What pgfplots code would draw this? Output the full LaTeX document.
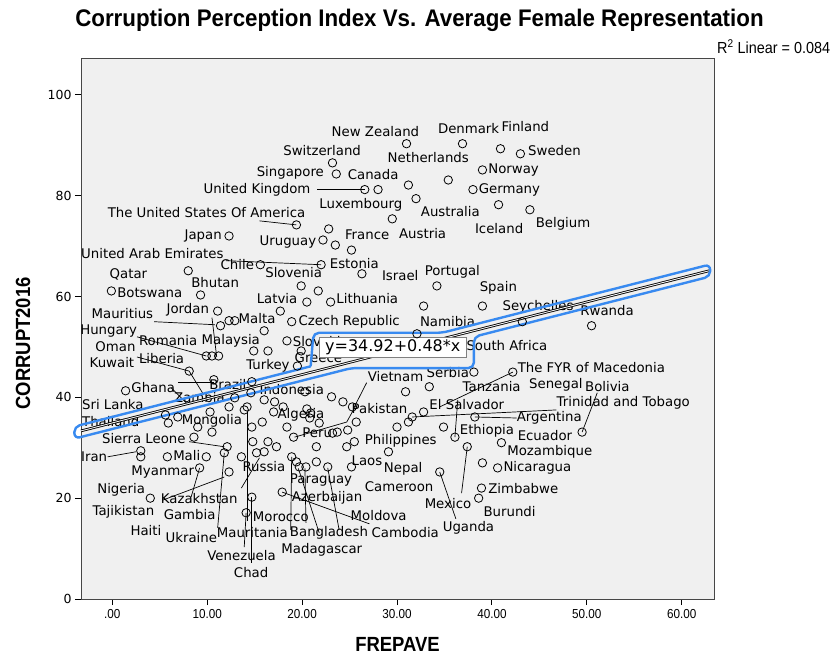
\documentclass[border=0pt]{standalone}
\usepackage{fontspec}
\setmainfont{DejaVu Sans}
\newfontfamily\condfont{Liberation Sans}[FakeStretch=0.9]
\newfontfamily\titlefont{Liberation Sans}[FakeStretch=0.93]
\usepackage{pgfplots}
\pgfplotsset{compat=1.18}
\definecolor{bgc}{RGB}{240,240,240}
\definecolor{framec}{RGB}{70,70,70}
\definecolor{selblue}{RGB}{56,138,240}
\newcommand{\labfont}{\fontsize{13.3}{14}\selectfont}
\newcommand{\lab}[3]{\node[anchor=west,inner sep=0pt,font=\labfont] at (axis cs:#1,#2) {#3};}
\begin{document}
\begin{tikzpicture}
\useasboundingbox (-81pt,-57pt) rectangle (756pt,599pt);
\begin{axis}[
  at={(0pt,0pt)}, anchor=south west, scale only axis,
  width=633pt, height=541pt,
  xmin=-3.3, xmax=63.4, ymin=0, ymax=107.3,
  axis background/.style={fill=bgc},
  axis line style={draw=framec, line width=0.9pt},
  xtick={0,10,20,30,40,50,60},
  xticklabels={.00,10.00,20.00,30.00,40.00,50.00,60.00},
  ytick={0,20,40,60,80,100},
  tick align=outside, xtick pos=bottom, ytick pos=left,
  major tick length=6pt,
  tick style={black, line width=0.9pt},
  x tick label style={font=\condfont\fontsize{13}{13}\selectfont, yshift=-1pt},
  y tick label style={font=\fontsize{12.5}{13}\selectfont},
  /pgf/number format/assume math mode=true,
  clip=false,
]
% data points
\addplot[only marks, mark=o, mark size=4.2pt, mark options={line width=0.8pt, black}] coordinates {
(31.0,90.3) (36.9,90.3) (40.9,89.3) (43.0,88.3) (23.2,86.5) (39.0,85.1)
(23.6,84.3) (35.4,83.1) (31.2,82.1) (38.0,81.2) (26.6,81.2) (28.0,81.2)
(32.0,79.4) (40.7,78.2) (44.0,77.2) (29.5,75.4) (19.4,74.2) (22.8,73.4)
(12.3,72.0) (22.2,71.2) (23.5,70.2) (25.2,69.2) (15.6,66.3) (22.0,66.3)
(8.0,65.1) (26.3,64.5) (34.2,62.1) (19.9,62.1) (21.7,61.1) (-0.1,61.1)
(9.3,60.3) (20.5,58.9) (23.0,58.9) (39.0,58.1) (32.8,58.1) (11.1,57.1)
(17.7,57.1) (12.3,55.2) (12.9,55.2) (11.4,54.2) (18.9,55.0) (16.0,53.2)
(18.4,51.2) (43.2,55.0) (50.5,54.2) (32.1,52.6) (9.9,48.2) (10.5,48.2)
(11.2,48.2) (14.9,49.2) (16.4,49.2) (19.9,49.2) (19.5,46.2) (8.1,45.2)
(38.1,45.0) (42.2,45.0) (33.4,42.1) (30.9,41.1) (10.7,43.5) (1.4,41.3)
(14.7,43.1) (20.3,41.1) (23.1,40.1) (24.3,39.1) (12.9,39.9) (12.3,38.1)
(14.6,40.9) (10.3,37.1) (5.6,36.5) (6.9,36.1) (5.9,34.9) (13.9,37.5)
(16.0,39.5) (17.1,39.1) (17.0,37.1) (18.0,38.1) (20.5,37.7) (20.8,35.9)
(9.0,34.1) (15.8,35.1) (14.7,34.1) (18.4,34.1) (19.1,32.1) (23.2,32.9)
(25.3,38.1) (24.8,33.5) (8.6,32.1) (12.1,30.2) (11.8,29.0) (21.8,34.9)
(23.7,33.1) (25.7,35.1) (10.5,33.1) (9.9,28.2) (14.8,31.2) (16.4,31.2)
(17.3,30.2) (16.0,29.2) (15.2,29.0) (13.6,28.2) (21.5,30.2) (21.5,27.2)
(24.7,30.2) (25.5,31.2) (18.9,28.2) (19.7,26.2) (20.4,26.2) (22.7,26.2)
(25.2,26.2) (12.3,25.2) (17.9,21.2) (14.7,20.2) (3.0,29.4) (3.0,28.2)
(5.8,28.2) (9.2,26.0) (4.0,20.0) (14.1,17.1) (14.2,38.1) (19.4,27.2)
(20.9,36.9) (31.6,36.1) (31.2,35.1) (32.8,37.1) (30.0,34.1) (34.9,34.1)
(38.2,36.1) (36.1,32.1) (29.1,29.2) (37.4,30.2) (41.0,31.0) (49.5,33.1)
(39.0,27.0) (40.6,26.0) (34.5,25.2) (38.9,22.0) (38.6,20.0)
};
% leader lines
\pgfplotsset{leader/.style={black, line width=0.7pt, forget plot}}
\addplot[leader] coordinates {(21.6,81.2) (26.6,81.2)};
\addplot[leader] coordinates {(15.5,75.0) (19.4,74.2)};
\addplot[leader] coordinates {(12.0,67.1) (22.0,66.3)};
\addplot[leader] coordinates {(4.4,55.0) (10.8,54.4)};
\addplot[leader] coordinates {(10.5,55.8) (11.0,48.0)};
\addplot[leader] coordinates {(2.6,52.0) (9.9,48.2)};
\addplot[leader] coordinates {(2.6,48.0) (8.1,45.2) (9.5,40.9)};
\addplot[leader] coordinates {(6.9,42.9) (10.7,42.9)};
\addplot[leader] coordinates {(6.2,41.9) (7.8,38.9)};
\addplot[leader] coordinates {(42.2,45.0) (34.5,38.1)};
\addplot[leader] coordinates {(26.8,42.9) (25.5,38.1)};
\addplot[leader] coordinates {(31.6,36.1) (46.8,37.5)};
\addplot[leader] coordinates {(38.2,36.1) (42.6,35.9)};
\addplot[leader] coordinates {(36.4,39.5) (36.1,32.1)};
\addplot[leader] coordinates {(49.5,33.1) (51.1,40.9)};
\addplot[leader] coordinates {(37.4,30.2) (36.8,21.0)};
\addplot[leader] coordinates {(34.5,25.2) (36.2,15.9)};
\addplot[leader] coordinates {(-0.5,28.2) (2.5,29.2)};
\addplot[leader] coordinates {(8.1,31.2) (11.8,30.2)};
\addplot[leader] coordinates {(5.3,19.6) (11.8,24.2)};
\addplot[leader] coordinates {(9.2,26.0) (8.3,20.2)};
\addplot[leader] coordinates {(11.8,29.0) (11.1,14.1)};
\addplot[leader] coordinates {(14.2,37.0) (14.2,15.5)};
\addplot[leader] coordinates {(14.7,20.2) (14.7,7.1)};
\addplot[leader] coordinates {(14.1,17.1) (13.9,10.3)};
\addplot[leader] coordinates {(13.6,22.0) (15.5,28.0)};
\addplot[leader] coordinates {(17.9,21.2) (27.1,14.9)};
\addplot[leader] coordinates {(18.9,28.2) (18.8,13.7)};
\addplot[leader] coordinates {(19.6,25.9) (21.8,13.1)};
\addplot[leader] coordinates {(20.3,25.9) (20.4,15.1)};
\addplot[leader] coordinates {(22.7,26.0) (23.9,13.7)};
\addplot[leader] coordinates {(19.2,32.1) (24.7,35.1) (25.7,38.5)};
% labels
\lab{23.1}{92.7}{New Zealand}
\lab{34.3}{93.3}{Denmark}
\lab{41.0}{93.8}{Finland}
\lab{18.0}{88.9}{Switzerland}
\lab{29.0}{87.5}{Netherlands}
\lab{43.8}{88.9}{Sweden}
\lab{15.2}{84.5}{Singapore}
\lab{24.8}{84.1}{Canada}
\lab{39.6}{85.1}{Norway}
\lab{9.6}{81.2}{United Kingdom}
\lab{38.6}{81.2}{Germany}
\lab{21.8}{78.2}{Luxembourg}
\lab{32.5}{76.8}{Australia}
\lab{-0.5}{76.6}{The United States Of America}
\lab{44.6}{74.4}{Belgium}
\lab{38.2}{73.4}{Iceland}
\lab{30.2}{72.4}{Austria}
\lab{7.6}{72.0}{Japan}
\lab{24.5}{72.2}{France}
\lab{15.5}{70.8}{Uruguay}
\lab{-3.3}{68.5}{United Arab Emirates}
\lab{11.4}{66.3}{Chile}
\lab{22.9}{66.5}{Estonia}
\lab{16.1}{64.7}{Slovenia}
\lab{-0.3}{64.3}{Qatar}
\lab{28.4}{64.1}{Israel}
\lab{32.9}{64.9}{Portugal}
\lab{8.3}{62.7}{Bhutan}
\lab{0.5}{60.7}{Botswana}
\lab{38.7}{61.7}{Spain}
\lab{15.2}{59.5}{Latvia}
\lab{23.6}{59.5}{Lithuania}
\lab{41.1}{57.9}{Seychelles}
\lab{49.3}{57.3}{Rwanda}
\lab{-2.2}{56.7}{Mauritius}
\lab{5.7}{57.3}{Jordan}
\lab{13.3}{55.6}{Malta}
\lab{19.6}{55.0}{Czech Republic}
\lab{32.4}{55.0}{Namibia}
\lab{-3.4}{53.2}{Hungary}
\lab{2.8}{51.2}{Romania}
\lab{9.4}{51.2}{Malaysia}
\lab{19.0}{51.0}{Slovakia}
\lab{-1.8}{50.0}{Oman}
\lab{37.3}{50.2}{South Africa}
\lab{2.8}{47.6}{Liberia}
\lab{-2.4}{46.8}{Kuwait}
\lab{19.2}{47.8}{Greece}
\lab{14.1}{46.2}{Turkey}
\lab{42.7}{46.0}{The FYR of Macedonia}
\lab{33.1}{45.0}{Serbia}
\lab{26.9}{44.2}{Vietnam}
\lab{2.0}{41.9}{Ghana}
\lab{10.2}{42.5}{Brazil}
\lab{15.5}{41.5}{Indonesia}
\lab{36.9}{42.1}{Tanzania}
\lab{43.9}{42.5}{Senegal}
\lab{49.8}{42.1}{Bolivia}
\lab{6.5}{39.9}{Zambia}
\lab{-3.2}{38.5}{Sri Lanka}
\lab{33.4}{38.5}{El Salvador}
\lab{46.8}{38.9}{Trinidad and Tobago}
\lab{25.2}{37.7}{Pakistan}
\lab{17.4}{36.5}{Algeria}
\lab{42.6}{35.9}{Argentina}
\lab{-3.2}{35.1}{Thailand}
\lab{7.3}{35.3}{Mongolia}
\lab{36.6}{33.3}{Ethiopia}
\lab{42.7}{32.5}{Ecuador}
\lab{20.0}{32.9}{Peru}
\lab{-1.1}{31.9}{Sierra Leone}
\lab{26.6}{31.3}{Philippines}
\lab{41.6}{29.2}{Mozambique}
\lab{-3.3}{28.2}{Iran}
\lab{6.4}{28.4}{Mali}
\lab{25.2}{27.4}{Laos}
\lab{13.7}{26.2}{Russia}
\lab{28.6}{25.8}{Nepal}
\lab{41.2}{26.0}{Nicaragua}
\lab{2.0}{25.2}{Myanmar}
\lab{18.7}{23.6}{Paraguay}
\lab{26.6}{22.2}{Cameroon}
\lab{39.6}{22.0}{Zimbabwe}
\lab{-1.6}{21.6}{Nigeria}
\lab{5.1}{20.0}{Kazakhstan}
\lab{18.9}{20.0}{Azerbaijan}
\lab{32.9}{19.0}{Mexico}
\lab{-2.1}{17.3}{Tajikistan}
\lab{5.4}{16.7}{Gambia}
\lab{14.8}{16.3}{Morocco}
\lab{25.1}{16.5}{Moldova}
\lab{39.1}{17.3}{Burundi}
\lab{1.9}{13.5}{Haiti}
\lab{5.6}{12.1}{Ukraine}
\lab{11.0}{13.1}{Mauritania}
\lab{18.7}{13.1}{Bangladesh}
\lab{27.3}{13.1}{Cambodia}
\lab{34.8}{14.1}{Uganda}
\lab{17.8}{9.7}{Madagascar}
\lab{10.0}{8.7}{Venezuela}
\lab{12.8}{5.2}{Chad}
% fit line (y = 34.92 + 0.48 x)
\addplot[black, line width=2.6pt, forget plot] coordinates {(-3.3,33.34) (62.9,65.11)};
\addplot[bgc, line width=0.9pt, forget plot] coordinates {(-3.3,33.34) (62.9,65.11)};
% selection outline
\addplot[selblue, line width=2.4pt, rounded corners=5.5pt, forget plot] coordinates {
(20.9,46.15) (21.2,52.8) (34.75,52.8) (63.0,66.36) (63.0,63.96)
(38.1,52.01) (38.1,45.8) (25.2,45.8) (-4.0,31.8) (-4.0,34.2) (20.9,46.15)};
% equation box
\addplot[fill=white, draw=gray, line width=0.8pt, forget plot] coordinates {
(21.8,48.0) (37.3,48.0) (37.3,51.8) (21.8,51.8) (21.8,48.0)};
\node[font=\fontsize{16}{16}\selectfont, inner sep=0pt] at (axis cs:29.55,49.9) {y=34.92+0.48*x};
% titles
\node[font=\titlefont\bfseries\fontsize{24}{24}\selectfont] at (rel axis cs:0.5,1) [xshift=22pt, yshift=38pt] {Corruption Perception Index Vs. Average Female Representation};
\node[font=\condfont\fontsize{16}{16}\selectfont, anchor=west, inner sep=0pt] at (rel axis cs:1,1) [xshift=3pt, yshift=11pt] {R\textsuperscript{2} Linear = 0.084};
\node[font=\condfont\bfseries\fontsize{20.5}{20.5}\selectfont] at (rel axis cs:0.5,0) [yshift=-45pt] {FREPAVE};
\path (rel axis cs:0,0.5) ++(-58pt,-15pt) node[font=\condfont\bfseries\fontsize{20.5}{20.5}\selectfont, rotate=90] {CORRUPT2016};
\end{axis}
\end{tikzpicture}
\end{document}
